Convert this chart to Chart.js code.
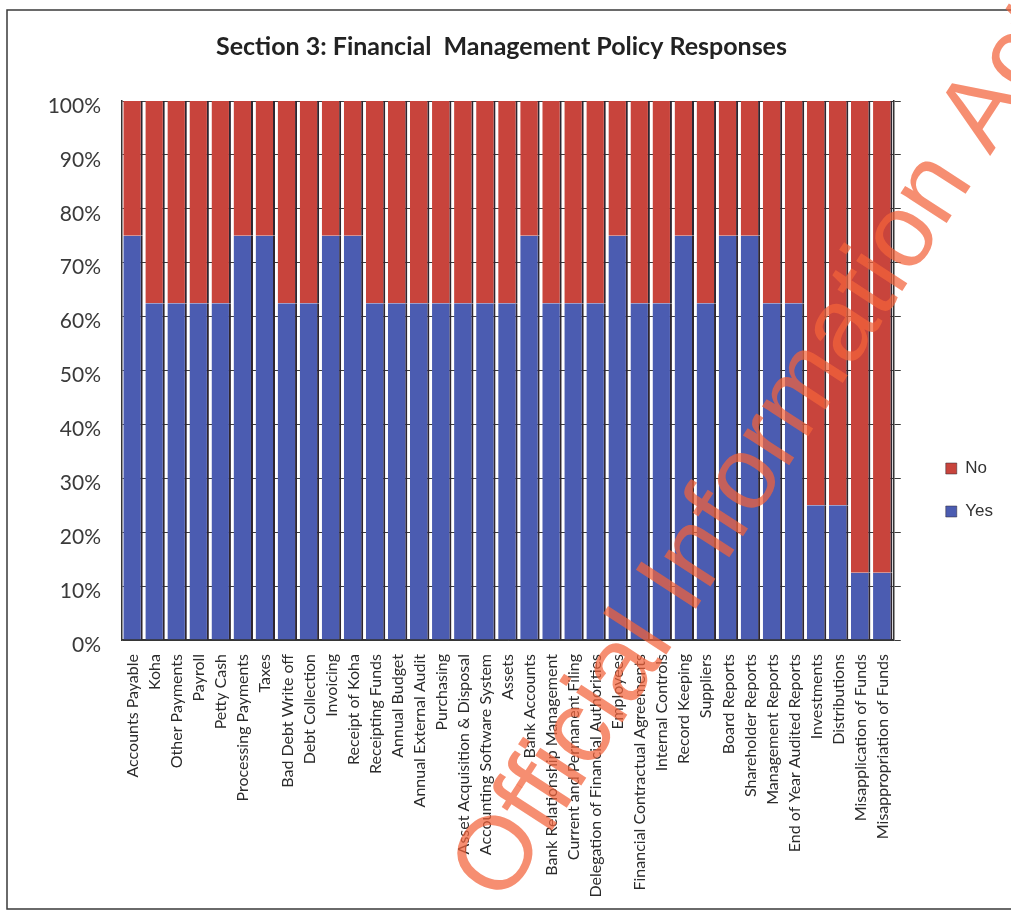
<!DOCTYPE html>
<html>
<head>
<meta charset="utf-8">
<script src="https://cdn.jsdelivr.net/npm/chart.js@4"></script>
<style>
  html, body { margin: 0; padding: 0; background: #fff; }
  #wrap { width: 1011px; height: 912px; }
</style>
</head>
<body>
<div id="wrap"><canvas id="policyChart" width="1011" height="912"></canvas></div>
<script>
const categories = [
    'Accounts Payable', 'Koha', 'Other Payments', 'Payroll', 'Petty Cash',
    'Processing Payments', 'Taxes', 'Bad Debt Write off', 'Debt Collection', 'Invoicing',
    'Receipt of Koha', 'Receipting Funds', 'Annual Budget', 'Annual External Audit', 'Purchasing',
    'Asset Acquisition & Disposal', 'Accounting Software System', 'Assets', 'Bank Accounts',
    'Bank Relationship Management', 'Current and Permanent Filing', 'Delegation of Financial Authorities',
    'Employees', 'Financial Contractual Agreements', 'Internal Controls', 'Record Keeping', 'Suppliers',
    'Board Reports', 'Shareholder Reports', 'Management Reports', 'End of Year Audited Reports',
    'Investments', 'Distributions', 'Misapplication of Funds', 'Misappropriation of Funds'
];

// share of responses, in percent
const yesValues = [
    75, 62.5, 62.5, 62.5, 62.5, 75, 75, 62.5, 62.5, 75,
    75, 62.5, 62.5, 62.5, 62.5, 62.5, 62.5, 62.5, 75, 62.5,
    62.5, 62.5, 75, 62.5, 62.5, 75, 62.5, 75, 75, 62.5,
    62.5, 25, 25, 12.5, 12.5
];
const noValues = [
    25, 37.5, 37.5, 37.5, 37.5, 25, 25, 37.5, 37.5, 25,
    25, 37.5, 37.5, 37.5, 37.5, 37.5, 37.5, 37.5, 25, 37.5,
    37.5, 37.5, 25, 37.5, 37.5, 25, 37.5, 25, 25, 37.5,
    37.5, 75, 75, 87.5, 87.5
];

const percentTicks = [0, 10, 20, 30, 40, 50, 60, 70, 80, 90, 100];

const RED = '#c8443c';
const BLUE = '#4b5cb1';
const EDGE = '#2e2630';

// white page with the thin frame round the chart
const framePlugin = {
    id: 'frame',
    beforeDraw(chart) {
        const c = chart.ctx;
        c.save();
        c.fillStyle = '#fff';
        c.fillRect(0, 0, chart.width, chart.height);
        c.strokeStyle = '#3a3a3a';
        c.lineWidth = 1.5;
        c.beginPath();
        c.moveTo(1011, 10);
        c.lineTo(7, 10);
        c.lineTo(7, 909);
        c.lineTo(1011, 909);
        c.stroke();
        c.restore();
    }
};

// diagonal stamp across the page
const stampPlugin = {
    id: 'stamp',
    afterDraw(chart) {
        const c = chart.ctx;
        c.save();
        c.translate(503, 906);
        c.rotate(-57 * Math.PI / 180);
        c.font = '104px "Liberation Sans", Arial, sans-serif';
        c.fillStyle = 'rgba(242, 98, 58, 0.72)';
        c.textBaseline = 'alphabetic';
        c.fillText('Official Information Act', 0, 0);
        c.restore();
    }
};

const ctx = document.getElementById('policyChart').getContext('2d');
const policyChart = new Chart(ctx, {
    type: 'bar',
    data: {
        labels: categories,
        datasets: [
            {
                label: 'Yes',
                data: yesValues,
                backgroundColor: BLUE,
                borderColor: EDGE,
                borderWidth: { right: 2, left: 0, top: 0, bottom: 0 },
                borderSkipped: false,
                barPercentage: 0.88,
                categoryPercentage: 1
            },
            {
                label: 'No',
                data: noValues,
                backgroundColor: RED,
                borderColor: EDGE,
                borderWidth: { right: 2, left: 0, top: 0, bottom: 0 },
                borderSkipped: false,
                barPercentage: 0.88,
                categoryPercentage: 1
            }
        ]
    },
    options: {
        responsive: false,
        animation: false,
        layout: { padding: { top: 20, right: 8, bottom: 0, left: 0 } },
        plugins: {
            title: {
                display: true,
                text: 'Section 3: Financial  Management Policy Responses',
                color: '#222',
                font: { family: 'Lato, "Open Sans", sans-serif', size: 25, weight: 'bold', lineHeight: 1.2 },
                padding: { top: 12, bottom: 39 }
            },
            legend: {
                position: 'right',
                reverse: true,
                title: {
                    display: true,
                    text: ' ',
                    font: { size: 1, lineHeight: 1 },
                    padding: { top: 47, bottom: 0 }
                },
                labels: {
                    boxWidth: 11,
                    boxHeight: 11,
                    padding: 26,
                    color: '#333',
                    font: { family: '"Liberation Sans", Arial, sans-serif', size: 17 }
                }
            },
            tooltip: { enabled: false }
        },
        scales: {
            x: {
                stacked: true,
                grid: { display: false },
                border: { display: true, color: '#333', width: 1.5 },
                ticks: {
                    autoSkip: false,
                    minRotation: 90,
                    maxRotation: 90,
                    padding: 6,
                    color: '#2b2b2b',
                    font: { family: 'Lato, "Open Sans", sans-serif', size: 16 }
                },
                afterFit(scale) { scale.height = 272; }
            },
            y: {
                stacked: true,
                min: 0,
                max: 100,
                afterBuildTicks(scale) {
                    scale.ticks = percentTicks.map(v => ({ value: v }));
                },
                grid: { color: '#3a3a3a', lineWidth: 1, drawTicks: false },
                border: { display: true, color: '#333', width: 1.5 },
                ticks: {
                    padding: 21,
                    labelOffset: 5,
                    color: '#3a3a3a',
                    font: { family: 'Lato, "Open Sans", sans-serif', size: 21 },
                    callback: v => v + '%'
                },
                afterFit(scale) { scale.width = 122; }
            },
            yRight: {
                position: 'right',
                min: 0,
                max: 100,
                afterBuildTicks(scale) {
                    scale.ticks = percentTicks.map(v => ({ value: v }));
                },
                grid: { drawOnChartArea: false, color: '#3a3a3a', tickLength: 7 },
                border: { display: true, color: '#333', width: 1.5 },
                ticks: { callback: () => '' },
                afterFit(scale) { scale.width = 26; }
            }
        }
    },
    plugins: [framePlugin, stampPlugin]
});
</script>
</body>
</html>
